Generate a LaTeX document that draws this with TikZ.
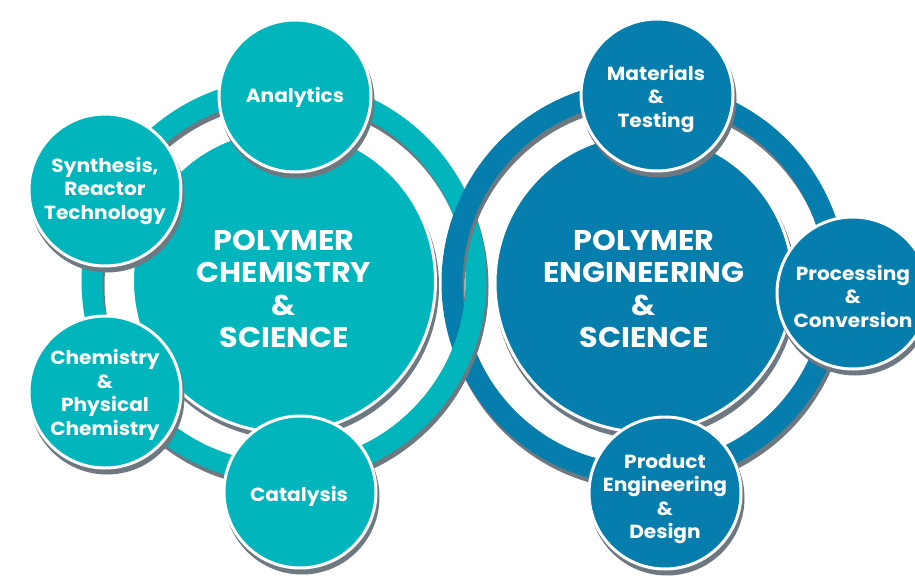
\documentclass[tikz,border=0pt]{standalone}
\usepackage{fontspec}
\setmainfont{Poppins}[FakeStretch=1.06]
\definecolor{tealc}{HTML}{00B5BC}
\definecolor{bluec}{HTML}{057DAD}
\definecolor{shadc}{HTML}{6E7880}
\begin{document}
\begin{tikzpicture}[x=1pt,y=-1pt,
  ringteal/.style={draw=tealc, line width=21pt},
  ringblue/.style={draw=bluec, line width=21pt},
  ringshadow/.style={draw=shadc, line width=21pt},
  core/.style={circle, draw=white, line width=3pt, inner sep=0pt, minimum size=303pt},
  coretext/.style={align=center, text=white, inner sep=0pt,
    font=\bfseries\fontsize{28.5}{32.5}\selectfont},
  sat/.style={circle, draw=white, line width=3pt, inner sep=0pt, minimum size=152pt},
  sattext/.style={align=center, text=white, inner sep=0pt,
    font=\bfseries\fontsize{19}{23.5}\selectfont},
  shadowfill/.style={fill=shadc}
]
\useasboundingbox (0,0) rectangle (915,580);
\clip (0,0) rectangle (915,580);

% centres
\coordinate (tc) at (284,281);
\coordinate (bc) at (644,283);
\coordinate (sA) at (295,96);
\coordinate (sS) at (105,190);
\coordinate (sC) at (105,392);
\coordinate (sK) at (300,492);
\coordinate (sM) at (657,95);
\coordinate (sP) at (853,293);
\coordinate (sD) at (665,493);

% rings (interlocked)
\draw[ringshadow] ([shift={(2,5)}]tc) circle (192pt);
\draw[ringteal] (tc) circle (192pt);
\draw[ringshadow] ([shift={(2,5)}]bc) circle (192pt);
\draw[ringblue] (bc) circle (192pt);
\begin{scope}
  \clip (400,300) rectangle (530,430);
  \draw[ringshadow] ([shift={(2,5)}]tc) circle (192pt);
  \draw[ringteal] (tc) circle (192pt);
\end{scope}

% cores
\fill[shadowfill] ([shift={(2,5)}]tc) circle (153pt);
\node[core, fill=tealc] (tcore) at (tc) {};
\node[coretext] (ttext) at (284,289) {POLYMER\\CHEMISTRY\\\&\\SCIENCE};
\fill[shadowfill] ([shift={(2,5)}]bc) circle (151pt);
\node[core, fill=bluec, minimum size=298pt] (bcore) at (bc) {};
\node[coretext] (btext) at (644,289) {POLYMER\\ENGINEERING\\\&\\SCIENCE};

% satellite shadows
\foreach \s in {sA,sS,sC,sK,sM,sP,sD}
  \fill[shadowfill] ([shift={(2,5)}]\s) circle (77.5pt);

% satellites
\node[sat, fill=tealc] (analytics) at (sA) {};
\node[sattext] (analyticsT) at (295,97) {Analytics};
\node[sat, fill=tealc] (synthesis) at (sS) {};
\node[sattext] (synthesisT) at (105,191) {Synthesis,\\Reactor\\Technology};
\node[sat, fill=tealc] (chemistry) at (sC) {};
\node[sattext] (chemistryT) at (105,395) {Chemistry\\\&\\Physical\\Chemistry};
\node[sat, fill=tealc] (catalysis) at (sK) {};
\node[sattext] (catalysisT) at (299,496) {Catalysis};
\node[sat, fill=bluec] (materials) at (sM) {};
\node[sattext] (materialsT) at (656,99) {Materials\\\&\\Testing};
\node[sat, fill=bluec] (processing) at (sP) {};
\node[sattext] (processingT) at (853,296) {Processing\\\&\\Conversion};
\node[sat, fill=bluec] (product) at (sD) {};
\node[sattext] (productT) at (665,499) {Product\\Engineering\\\&\\Design};
\end{tikzpicture}
\end{document}
